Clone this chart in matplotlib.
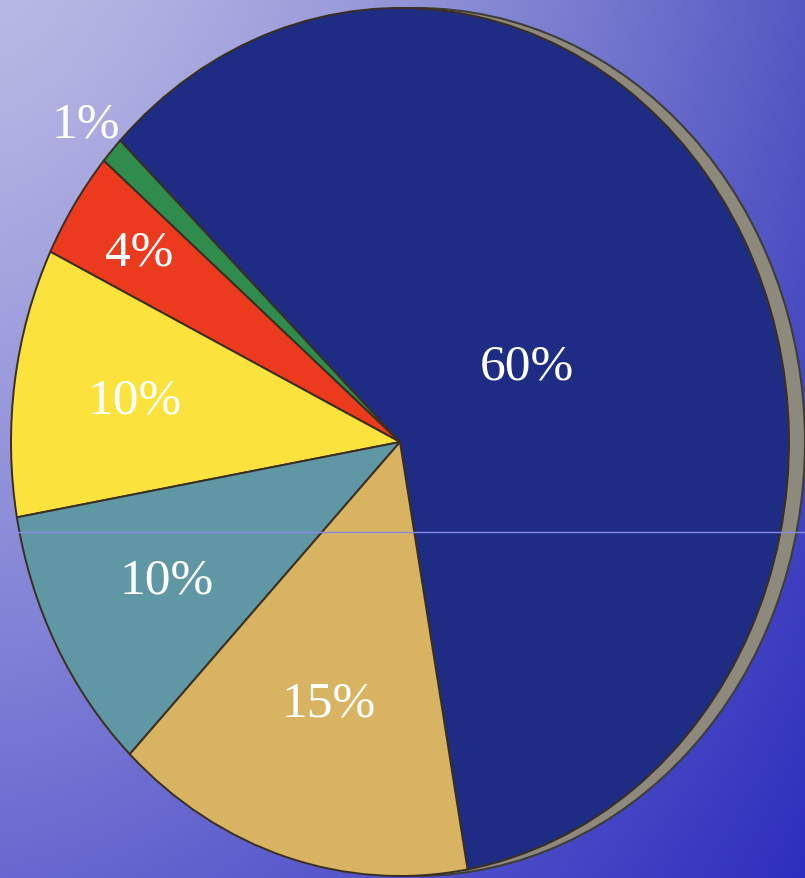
import numpy as np
import matplotlib
matplotlib.use('Agg')
import matplotlib.pyplot as plt
from matplotlib.patches import Ellipse

# slice data, counter-clockwise from the bottom edge of the big slice
labels = ['60%', '1%', '4%', '10%', '10%', '15%']
values = [60, 1, 4, 10, 10, 15]
colors = ['#1f2c84', '#2f8c4c', '#ec3a1e', '#fbe23c', '#5f97a4', '#d8b462']
label_r = [0.37, 1.09, 0.80, 0.69, 0.68, 0.63]

W, H = 805, 879
# pie centre and radii in pixels (the pie is drawn slightly taller than wide)
cx, cy = 400, 443
rx, ry = 389, 434

fig = plt.figure(figsize=(W / 100, H / 100), dpi=100)

# background: bluish gradient, lighter to the upper left
bg = fig.add_axes([0, 0, 1, 1])
bg.set_axis_off()
tl = np.array([184, 184, 228]) / 255
tr = np.array([84, 88, 194]) / 255
bl = np.array([104, 104, 208]) / 255
br = np.array([46, 46, 190]) / 255
u = (np.linspace(0, 1, 200) ** 1.4)[None, :, None]
v = (np.linspace(0, 1, 220) ** 1.2)[:, None, None]
img = (1 - v) * ((1 - u) * tl + u * tr) + v * ((1 - u) * bl + u * br)
bg.imshow(img, aspect='auto', extent=(0, 1, 0, 1), origin='upper')
bg.set_xlim(0, 1)
bg.set_ylim(0, 1)

ax = fig.add_axes([0, 0, 1, 1])
ax.patch.set_alpha(0)

# grey rim on the right side
rim = Ellipse((16 / rx, 0), 2, 2, facecolor='#8d897c', edgecolor='#3e3d38', lw=1.5, zorder=1)
ax.add_patch(rim)

wedges, _ = ax.pie(values, colors=colors, startangle=-80, counterclock=True,
                   wedgeprops=dict(edgecolor='#3a2e22', linewidth=1.4))
for w in wedges:
    w.set_zorder(2)

for w, lab, r in zip(wedges, labels, label_r):
    mid = np.deg2rad((w.theta1 + w.theta2) / 2)
    ax.text(r * np.cos(mid), r * np.sin(mid), lab, ha='center', va='center',
            color='white', fontsize=37, family='Liberation Serif', zorder=5)

ax.set_aspect('auto')
ax.set_xlim(-cx / rx, (W - cx) / rx)
ax.set_ylim(-(H - cy) / ry, cy / ry)
ax.set_axis_off()

# thin light line across the whole picture
ax.axhline((cy - 533) / ry, color='#8a8ae6', lw=1, zorder=6)

fig.savefig('out.png', dpi=100)
